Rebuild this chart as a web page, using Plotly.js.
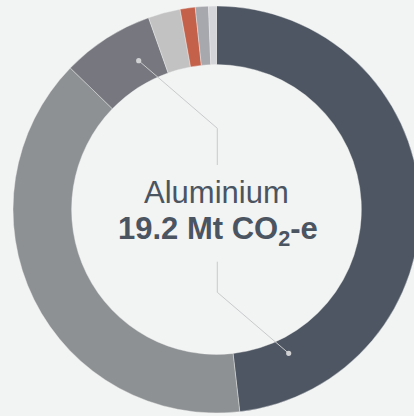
<!DOCTYPE html>
<html>
<head>
<meta charset="utf-8">
<script src="https://cdn.plot.ly/plotly-3.0.1.min.js"></script>
<style>
html,body{margin:0;padding:0;background:#f2f3f3;overflow:hidden;}
#chart{width:433px;height:419px;}
</style>
</head>
<body>
<div id="chart"></div>
<script>
// Data (Mt CO2-e)
const categories = ["Electricity", "Industrial processes", "Stationary energy", "Transport", "Fugitive emissions", "Waste", "Other"];
const values = [9.25, 7.50, 1.41, 0.49, 0.23, 0.20, 0.12];
const colors = ["#4d5662", "#8e9193", "#77787f", "#c2c2c3", "#c4614a", "#a7a8ad", "#d4d5d9"];
const centerTitle = "Aluminium";
const centerValue = "19.2 Mt CO<sub>2</sub>-e";

const W = 433, H = 419, MT = 6, MB = 6;
const PH = H - MT - MB;
const px = x => x / W;
const py = y => (H - MB - y) / PH;

const lineColor = "#c9cacb";
function seg(x0, y0, x1, y1) {
  return {type: "line", xref: "paper", yref: "paper", x0: px(x0), y0: py(y0), x1: px(x1), y1: py(y1),
          line: {color: lineColor, width: 1}, layer: "above"};
}
function dot(x, y) {
  const r = 2.6;
  return {type: "circle", xref: "paper", yref: "paper", x0: px(x - r), x1: px(x + r), y0: py(y + r), y1: py(y - r),
          fillcolor: "#d0d1d2", line: {width: 0}, layer: "above"};
}

const data = [{
  type: "pie",
  labels: categories,
  values: values,
  hole: 0.712,
  sort: false,
  direction: "clockwise",
  rotation: 0,
  textinfo: "none",
  hoverinfo: "label+value",
  marker: {colors: colors, line: {color: "#f2f3f3", width: 0.4}},
  showlegend: false
}];

const layout = {
  width: W, height: H,
  margin: {l: 0, r: 0, t: MT, b: MB, pad: 0},
  paper_bgcolor: "#f2f3f3",
  plot_bgcolor: "#f2f3f3",
  showlegend: false,
  shapes: [
    seg(138.7, 60.7, 217.3, 128.3), seg(217.3, 128.3, 217.3, 165),
    seg(217.3, 261.7, 217.3, 292.3), seg(217.3, 292.3, 288.7, 353.3),
    dot(138.7, 60.7), dot(288.7, 353.3)
  ],
  annotations: [
    {text: centerTitle, xref: "paper", yref: "paper", x: px(216), y: py(192), xanchor: "center", yanchor: "middle",
     showarrow: false, font: {family: "Liberation Sans, Arial, sans-serif", size: 31, color: "#4b5461"}},
    {text: "<b>" + centerValue + "</b>", xref: "paper", yref: "paper", x: px(217.5), y: py(231), xanchor: "center", yanchor: "middle",
     showarrow: false, font: {family: "Liberation Sans, Arial, sans-serif", size: 31, color: "#4b5461"}}
  ]
};

Plotly.newPlot("chart", data, layout, {displayModeBar: false, staticPlot: true});
</script>
</body>
</html>
